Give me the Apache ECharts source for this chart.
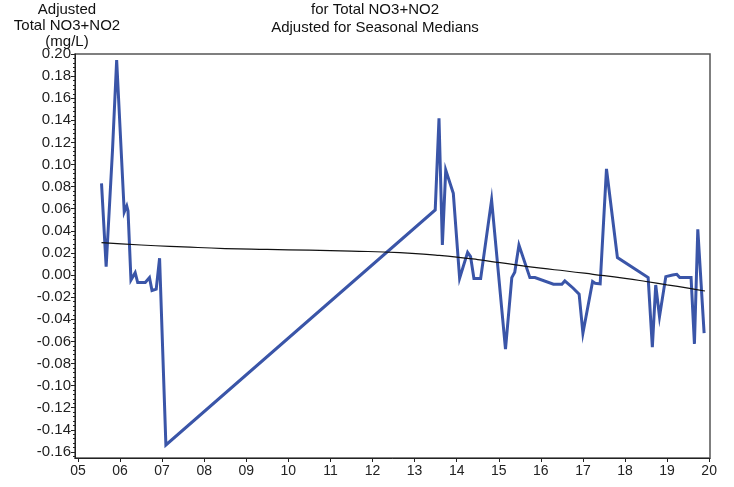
<!DOCTYPE html>
<html>
<head>
<meta charset="utf-8">
<script src="https://cdn.jsdelivr.net/npm/echarts@6/dist/echarts.min.js"></script>
<style>
html,body{margin:0;padding:0;background:#fff;}
#chart{width:734px;height:487px;}
</style>
</head>
<body>
<div id="chart"></div>
<script>
// Adjusted concentration series (decimal year, mg/L)
var obsYears = [2005.56,2005.67,2005.82,2005.92,2006.10,2006.16,2006.19,2006.26,2006.36,2006.42,2006.60,2006.70,2006.76,2006.86,2006.94,2007.09,
  2013.49,2013.58,2013.66,2013.74,2013.92,2014.07,2014.26,2014.33,2014.41,2014.57,2014.83,2015.16,2015.31,2015.38,2015.48,2015.74,2015.86,
  2016.30,2016.50,2016.57,2016.77,2016.91,2017.00,2017.23,2017.29,2017.41,2017.56,2017.82,2018.55,2018.65,2018.73,2018.82,2018.97,
  2019.13,2019.23,2019.30,2019.57,2019.65,2019.73,2019.88];
var obsValues = [0.083,0.0076,0.112,0.1946,0.057,0.0625,0.058,-0.0044,0.0022,-0.0068,-0.0068,-0.0023,-0.014,-0.0128,0.0152,-0.1537,
  0.0589,0.1418,0.0272,0.095,0.074,-0.0029,0.0206,0.0167,-0.003,-0.003,0.068,-0.0671,-0.0023,0.0025,0.0272,-0.0023,-0.0023,
  -0.0083,-0.0083,-0.0053,-0.0119,-0.0173,-0.0526,-0.0059,-0.0074,-0.008,0.096,0.0158,-0.0023,-0.0653,-0.009,-0.0376,-0.0014,
  0.0001,0.0007,-0.0023,-0.0023,-0.0623,0.0414,-0.0526];
// Smoothed trend
var trendYears = [2005.56,2006.5,2007.5,2008.5,2009.5,2010.5,2011.5,2012.65,2013.5,2014.0,2014.5,2015.03,2016.0,2016.6,2017.24,2018.0,2018.5,2019.0,2019.5,2019.9];
var trendValues = [0.0293,0.0272,0.0255,0.0240,0.0232,0.0225,0.0217,0.0203,0.0180,0.0163,0.0140,0.0112,0.0062,0.0037,0.0007,-0.0030,-0.0058,-0.0088,-0.0118,-0.0144];
// Tick labels
var yTicks = [-0.16,-0.14,-0.12,-0.10,-0.08,-0.06,-0.04,-0.02,0.00,0.02,0.04,0.06,0.08,0.10,0.12,0.14,0.16,0.18,0.20];
var xTicks = [2005,2006,2007,2008,2009,2010,2011,2012,2013,2014,2015,2016,2017,2018,2019,2020];
var titleText = "for Total NO3+NO2\nAdjusted for Seasonal Medians";
var yNameText = "Adjusted\nTotal NO3+NO2\n(mg/L)";

var yMinor = [];
for (var i = 0; i < yTicks.length - 1; i++) {
  for (var k = 1; k < 5; k++) yMinor.push(+(yTicks[i] + k * 0.004).toFixed(4));
}
yMinor.unshift(-0.164);

function pairs(xs, ys){ return xs.map(function(x,i){ return [x, ys[i]]; }); }

var font = "'Liberation Sans', Arial, sans-serif";
var chart = echarts.init(document.getElementById('chart'), null, {renderer:'canvas'});
chart.setOption({
  animation: false,
  backgroundColor: '#fff',
  title: [
    {text: titleText, left: 375, top: 1, textAlign: 'center', padding: 0,
     textStyle: {fontFamily: font, fontSize: 15, fontWeight: 'normal', color: '#111', lineHeight: 18}},
    {text: yNameText, left: 67, top: 2, textAlign: 'center', padding: 0,
     textStyle: {fontFamily: font, fontSize: 15, fontWeight: 'normal', color: '#111', lineHeight: 16}}
  ],
  grid: {left: 75, right: 24, top: 54, bottom: 29, show: true, borderColor: '#555', borderWidth: 1.5, containLabel: false},
  xAxis: {
    type: 'value', min: 2004.93, max: 2020.02,
    axisLine: {show: true, onZero: false, lineStyle: {color: '#222', width: 1}},
    axisTick: {show: true, length: 4, customValues: xTicks, lineStyle: {color: '#222'}},
    axisLabel: {show: true, customValues: xTicks, margin: 6, fontFamily: font, fontSize: 14, color: '#222',
      formatter: function(v){ var s = String(Math.round(v) - 2000); return s.length < 2 ? '0' + s : s; }},
    splitLine: {show: false}
  },
  yAxis: [
    {
      type: 'value', min: -0.1655, max: 0.20,
      axisLine: {show: true, onZero: false, lineStyle: {color: '#222', width: 1}},
      axisTick: {show: true, length: 4, customValues: yTicks, lineStyle: {color: '#222'}},
      axisLabel: {show: true, customValues: yTicks, margin: 4, fontFamily: font, fontSize: 15, color: '#222',
        formatter: function(v){ return v.toFixed(2); }},
      splitLine: {show: false}
    },
    {
      type: 'value', min: -0.1655, max: 0.20, position: 'left',
      axisLine: {show: false, onZero: false},
      axisTick: {show: true, length: 2, customValues: yMinor, lineStyle: {color: '#222'}},
      axisLabel: {show: false},
      splitLine: {show: false}
    }
  ],
  series: [
    {
      type: 'line', data: pairs(obsYears, obsValues), showSymbol: false, symbol: 'none',
      lineStyle: {color: '#3a55a8', width: 3, join: 'miter'}, z: 3
    },
    {
      type: 'line', data: pairs(trendYears, trendValues), showSymbol: false, symbol: 'none', smooth: true,
      lineStyle: {color: '#111', width: 1.2}, z: 4
    }
  ]
});
</script>
</body>
</html>
